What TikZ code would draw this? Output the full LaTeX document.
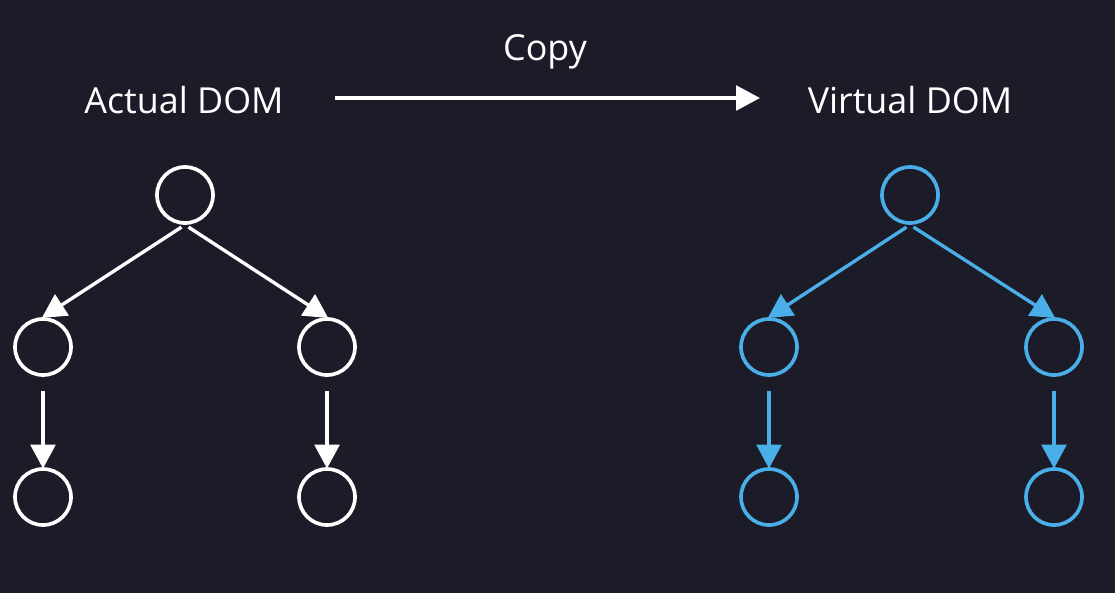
\documentclass[tikz,border=0pt]{standalone}
\usepackage{fontspec}
\setmainfont{Open Sans}
\usetikzlibrary{arrows.meta}
\definecolor{bgdark}{HTML}{1C1C28}
\definecolor{vblue}{HTML}{4AAEE8}
\begin{document}
\begin{tikzpicture}[
    x=0.025cm, y=-0.025cm, >={Triangle[length=0.6cm,width=0.62cm]},
    label/.style={text=white, font=\fontsize{25.5}{30}\selectfont, inner sep=0pt},
    dom/.style={circle, draw, line width=2.6pt, minimum size=1.4cm, inner sep=0pt},
    actual/.style={dom, draw=white},
    virtual/.style={dom, draw=vblue},
    edge/.style={->, line width=2.4pt, shorten <=3pt, shorten >=-1pt}]
  \fill[bgdark] (0,0) rectangle (1115,593);
  % titles
  \node[label] (ta) at (184,100) {Actual DOM};
  \node[label] (tv) at (910,100) {Virtual DOM};
  \node[label] (cp) at (545,52) {Copy};
  \coordinate (c1) at (335,98);
  \coordinate (c2) at (760,98);
  \draw[->, white, line width=2.4pt] (c1)--(c2);
  % actual tree
  \node[actual] (a0) at (185,195) {};
  \node[actual] (a1) at (43,347) {};
  \node[actual] (a2) at (327,347) {};
  \node[actual] (a3) at (43,497) {};
  \node[actual] (a4) at (327,497) {};
  % virtual tree
  \node[virtual] (v0) at (910,195) {};
  \node[virtual] (v1) at (769,347) {};
  \node[virtual] (v2) at (1054,347) {};
  \node[virtual] (v3) at (769,497) {};
  \node[virtual] (v4) at (1054,497) {};
  \draw[edge, white] (a0.south)--(a1.north); \draw[edge, white] (a0.south)--(a2.north);
  \draw[edge, white, shorten <=0.35cm] (a1)--(a3); \draw[edge, white, shorten <=0.35cm] (a2)--(a4);
  \draw[edge, vblue] (v0.south)--(v1.north); \draw[edge, vblue] (v0.south)--(v2.north);
  \draw[edge, vblue, shorten <=0.35cm] (v1)--(v3); \draw[edge, vblue, shorten <=0.35cm] (v2)--(v4);
\end{tikzpicture}
\end{document}
